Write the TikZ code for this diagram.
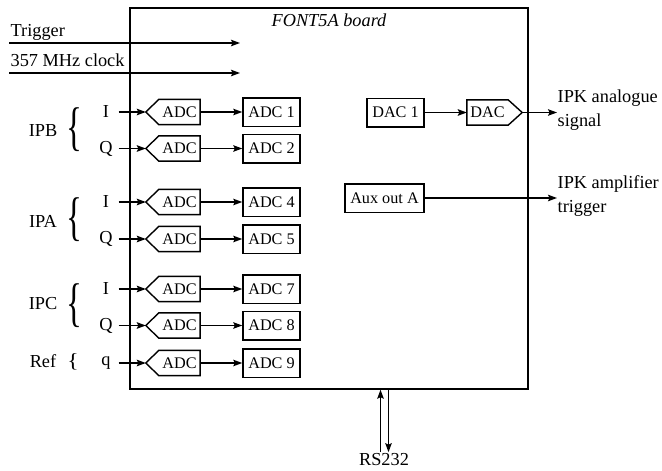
\documentclass[tikz,border=0pt]{standalone}
\usepackage{fontspec}
\setmainfont{Liberation Serif}
\usetikzlibrary{arrows.meta}
\begin{document}
\begin{tikzpicture}[x=1pt,y=-1pt,
  line width=1.35pt,
  arr/.style={-{Stealth[length=9pt,width=6.5pt,inset=1.5pt]}},
  big/.style={font=\fontsize{18.3}{24}\selectfont},
  small/.style={font=\fontsize{16.2}{19}\selectfont},
  regbox/.style={draw, line width=1.5pt, small, minimum width=57pt, minimum height=28.5pt, inner sep=0pt},
  convbody/.style={small, minimum width=40pt, minimum height=24pt, inner sep=0pt},
  convline/.style={line width=1.4pt},
  inlab/.style={big, minimum width=24pt, inner sep=0pt},
  grplab/.style={big, inner sep=0pt},
  brace/.style={big, inner sep=0pt}]
\useasboundingbox (0,0) rectangle (662,471);

% board
\node[draw, line width=1.4pt, minimum width=398pt, minimum height=381pt, inner sep=0pt] (board) at (329,198.5) {};
\node[font=\fontsize{18.3}{24}\selectfont\itshape, inner sep=0pt] (title) at (329,20) {FONT5A board};

% trigger and clock
\coordinate (trigS) at (9,43);
\coordinate (trigE) at (240,43);
\coordinate (clkS) at (9,73);
\coordinate (clkE) at (240,73);
\node[big, anchor=base west, inner sep=0pt] (trigl) at (10,36) {Trigger};
\node[big, anchor=base west, inner sep=0pt] (clkl) at (10,66) {357 MHz clock};
\draw[arr] (trigS) -- (trigE);
\draw[arr] (clkS) -- (clkE);

% ADC rows
\foreach \n/\y/\lab in {1/112/I, 2/148.5/Q, 4/202/I, 5/239/Q, 7/289/I, 8/325.5/Q, 9/363/q}{
  \node[inlab] (in\n) at (106,\y) {\lab};
  \node[convbody] (conv\n) at (179.5,\y) {ADC};
  \draw[convline] (conv\n.north west) -- (conv\n.north east) -- (conv\n.south east)
     -- (conv\n.south west) -- ([xshift=-13pt]conv\n.west) -- cycle;
  \node[regbox] (reg\n) at (271.5,\y) {ADC \n};
  \draw[arr] (in\n.east) -- ([xshift=-13pt]conv\n.west);
  \draw[arr] (conv\n.east) -- (reg\n.west);
}

% group labels and braces
\node[grplab] (ipb) at (43,131) {IPB};
\node[grplab] (ipa) at (43,221) {IPA};
\node[grplab] (ipc) at (43,304) {IPC};
\node[grplab] (ref) at (43,361) {Ref};
\node[brace] (bripb) at (74,129.5) {\scalebox{1.8}[2.9]{\{}};
\node[brace] (bripa) at (74,220) {\scalebox{1.8}[2.9]{\{}};
\node[brace] (bripc) at (74,306) {\scalebox{1.8}[2.9]{\{}};
\node[brace] (brref) at (73,362) {\scalebox{1.3}[1.1]{\{}};

% DAC side
\node[regbox] (dac1) at (395.5,112.5) {DAC 1};
\node[convbody] (dacs) at (487.5,112.5) {DAC};
\draw[convline] (dacs.north west) -- (dacs.north east) -- ([xshift=14pt]dacs.east)
   -- (dacs.south east) -- (dacs.south west) -- cycle;
\draw[arr] (dac1.east) -- (dacs.west);
\node[big, align=left, anchor=west, inner sep=0pt] (ipka) at (557,110) {IPK analogue\\signal};
\draw[arr] ([xshift=14pt]dacs.east) -- (ipka.west |- dacs.east);

\node[regbox, minimum width=79pt] (aux) at (384.5,198) {Aux out A};
\node[big, align=left, anchor=west, inner sep=0pt] (ipkt) at (557,196) {IPK amplifier\\trigger};
\draw[arr] (aux.east) -- (ipkt.west |- aux.east);

% RS232
\node[big, inner sep=1pt] (rs) at (384,460) {RS232};
\draw[arr] ([xshift=-3.5pt]rs.north) -- ([xshift=-3.5pt]rs.north |- board.south);
\draw[arr] ([xshift=4.5pt]rs.north |- board.south) -- ([xshift=4.5pt]rs.north);
\end{tikzpicture}
\end{document}
